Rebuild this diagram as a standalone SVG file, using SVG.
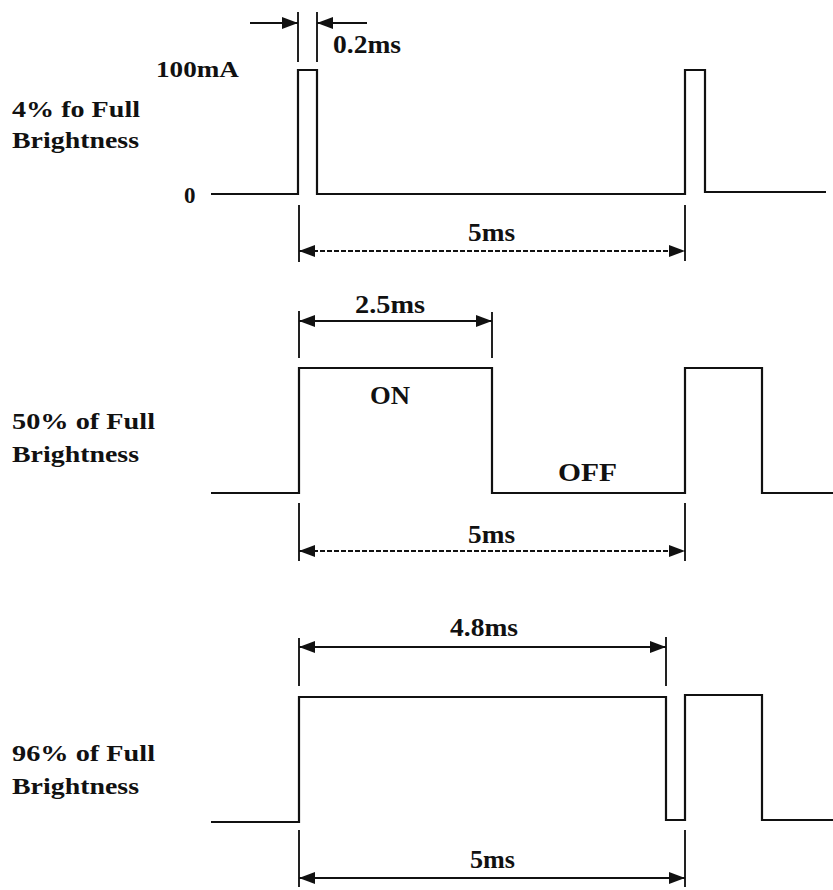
<svg xmlns="http://www.w3.org/2000/svg" width="833" height="890" viewBox="0 0 833 890">
<style>
.wave{fill:none;stroke:#111;stroke-width:2.2;stroke-linejoin:miter}
.ext{stroke:#222;stroke-width:2;fill:none}
.dim{stroke:#111;stroke-width:1.8;fill:none}
.dash{stroke-dasharray:5 2}
.lbl{font-family:"Liberation Serif","Times New Roman",serif;font-weight:bold;font-size:23px;fill:#111}
.big{font-size:26px}
</style>
<defs>
<marker id="ah" markerUnits="userSpaceOnUse" markerWidth="16" markerHeight="12" viewBox="0 0 16 12" refX="16" refY="6" orient="auto-start-reverse">
<path d="M0,0 L16,6 L0,12 z" fill="#111"/>
</marker>
</defs>
<rect width="833" height="890" fill="#fff"/>

<g id="wave-4pct">
<polyline class="wave" points="211,194 298,194 298,70 317,70 317,194 685,194 685,70 705,70 705,192 826,192"/>
</g>
<g id="wave-50pct">
<polyline class="wave" points="211,493 299,493 299,368 492,368 492,493 685,493 685,368 762,368 762,493 833,493"/>
</g>
<g id="wave-96pct">
<polyline class="wave" points="211,822 299,822 299,697 666,697 666,820 685,820 685,695 762,695 762,820 833,820"/>
</g>

<g id="labels">
<text class="lbl" x="12" y="117" textLength="128" lengthAdjust="spacingAndGlyphs">4% fo Full</text>
<text class="lbl" x="12" y="148" textLength="127" lengthAdjust="spacingAndGlyphs">Brightness</text>
<text class="lbl" x="12" y="429" textLength="143" lengthAdjust="spacingAndGlyphs">50% of Full</text>
<text class="lbl" x="12" y="462" textLength="127" lengthAdjust="spacingAndGlyphs">Brightness</text>
<text class="lbl" x="12" y="761" textLength="143" lengthAdjust="spacingAndGlyphs">96% of Full</text>
<text class="lbl" x="12" y="794" textLength="127" lengthAdjust="spacingAndGlyphs">Brightness</text>
<text class="lbl" x="156" y="77" textLength="83" lengthAdjust="spacingAndGlyphs">100mA</text>
<text class="lbl" x="184" y="203" font-size="24">0</text>
<text class="lbl big" x="333" y="53" textLength="68" lengthAdjust="spacingAndGlyphs">0.2ms</text>
<text class="lbl big" x="468" y="241" textLength="47" lengthAdjust="spacingAndGlyphs">5ms</text>
<text class="lbl big" x="355" y="313" textLength="70" lengthAdjust="spacingAndGlyphs">2.5ms</text>
<text class="lbl big" x="370" y="404" textLength="40" lengthAdjust="spacingAndGlyphs">ON</text>
<text class="lbl big" x="558" y="481" textLength="59" lengthAdjust="spacingAndGlyphs">OFF</text>
<text class="lbl big" x="468" y="543" textLength="47" lengthAdjust="spacingAndGlyphs">5ms</text>
<text class="lbl big" x="450" y="636" textLength="68" lengthAdjust="spacingAndGlyphs">4.8ms</text>
<text class="lbl big" x="470" y="868" textLength="45" lengthAdjust="spacingAndGlyphs">5ms</text>
</g>

<g id="connectors">
<line class="ext" x1="298" y1="12" x2="298" y2="62"/>
<line class="ext" x1="317" y1="12" x2="317" y2="62"/>
<line class="dim" x1="250" y1="23" x2="298" y2="23" marker-end="url(#ah)"/>
<line class="dim" x1="367" y1="23" x2="317" y2="23" marker-end="url(#ah)"/>

<line class="ext" x1="299" y1="205" x2="299" y2="262"/>
<line class="ext" x1="685" y1="205" x2="685" y2="261"/>
<line class="dim dash" x1="299" y1="251" x2="685" y2="251" marker-start="url(#ah)" marker-end="url(#ah)"/>

<line class="ext" x1="299" y1="311" x2="299" y2="358"/>
<line class="ext" x1="492" y1="312" x2="492" y2="358"/>
<line class="dim" x1="299" y1="321" x2="492" y2="321" marker-start="url(#ah)" marker-end="url(#ah)"/>

<line class="ext" x1="299" y1="503" x2="299" y2="561"/>
<line class="ext" x1="685" y1="503" x2="685" y2="561"/>
<line class="dim dash" x1="299" y1="551" x2="685" y2="551" marker-start="url(#ah)" marker-end="url(#ah)"/>

<line class="ext" x1="299" y1="638" x2="299" y2="686"/>
<line class="ext" x1="666" y1="637" x2="666" y2="686"/>
<line class="dim" x1="299" y1="647" x2="666" y2="647" marker-start="url(#ah)" marker-end="url(#ah)"/>

<line class="ext" x1="299" y1="830" x2="299" y2="887"/>
<line class="ext" x1="685" y1="830" x2="685" y2="887"/>
<line class="dim" x1="299" y1="878" x2="685" y2="878" marker-start="url(#ah)" marker-end="url(#ah)"/>
</g>
</svg>
